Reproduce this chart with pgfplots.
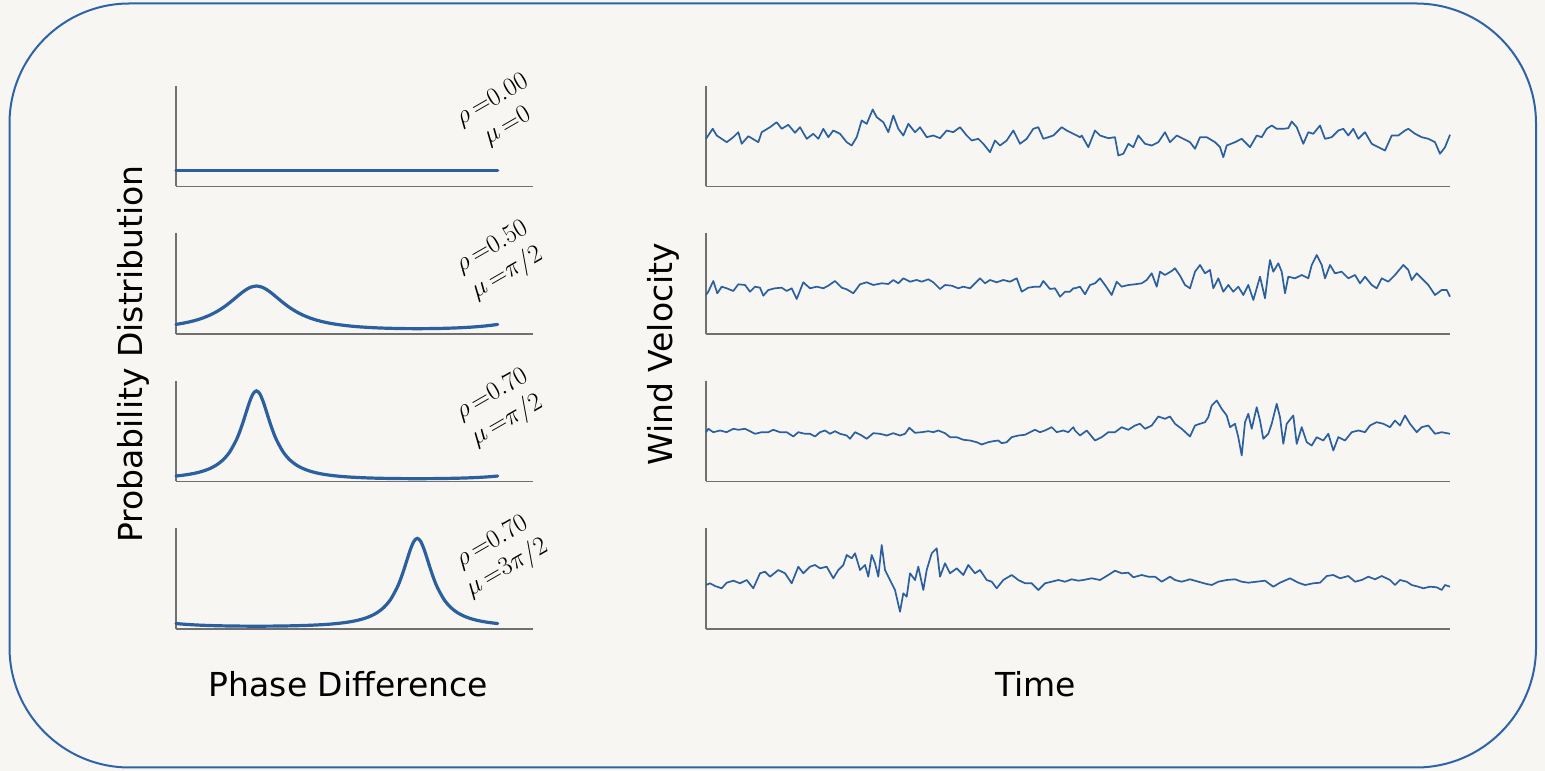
\RequirePackage{fix-cm}
\documentclass[border=0pt]{standalone}
\usepackage[no-math]{fontspec}
\setmainfont{DejaVu Sans}
\usepackage{pgfplots}
\pgfplotsset{compat=1.18}
\definecolor{bg}{HTML}{F7F6F3}
\definecolor{frame}{HTML}{2E63A6}
\definecolor{curve}{HTML}{2B5F9E}
\definecolor{spine}{HTML}{707070}
\newcommand{\eq}{\mkern3mu{=}}
\tikzset{
  dens/.style={curve, line width=3.2pt, smooth, line cap=round},
  wind/.style={curve, line width=1.7pt, line join=round},
  ann/.style={rotate=30, align=center, font=\fontsize{26}{30}\selectfont},
}
\pgfplotsset{
  panel/.style={
    scale only axis, axis x line*=bottom, axis y line*=left,
    axis line style={spine, line width=1.3pt, -},
    xtick=\empty, ytick=\empty, anchor=south west, clip=false,
  },
  lpanel/.style={panel, width=357pt, height=100.5pt, xmin=0, xmax=399.5, ymin=0, ymax=1},
  rpanel/.style={panel, width=744pt, height=100.5pt, xmin=0, xmax=744, ymin=0, ymax=100.5},
}
\begin{document}
\begin{tikzpicture}[x=1pt,y=1pt]
\fill[bg] (0,0) rectangle (1545,771);
\draw[frame, line width=2pt, rounded corners=120pt] (9.5,3.5) rectangle (1536,767.5);

% ---------------- left panels ----------------
\begin{axis}[lpanel, at={(176pt,584.5pt)}]
\addplot[dens] coordinates {(0,0.159155) (360,0.159155)};
\node[ann] at (rel axis cs:0.9076,0.726) {$\rho\eq0.00$\\$\mu\eq0$};
\end{axis}

\begin{axis}[lpanel, at={(176pt,437pt)}]
\addplot[dens] coordinates {
(0,0.09549) (7.5,0.10663) (15,0.12043) (22.5,0.13763) (30,0.15915) (37.5,0.18615)
(45,0.21987) (52.5,0.26140) (60,0.31087) (67.5,0.36602) (75,0.42019) (82.5,0.46166)
(90,0.47746) (97.5,0.46166) (105,0.42019) (112.5,0.36602) (120,0.31087) (127.5,0.26140)
(135,0.21987) (142.5,0.18615) (150,0.15915) (157.5,0.13763) (165,0.12043) (172.5,0.10663)
(180,0.09549) (187.5,0.08646) (195,0.07911) (202.5,0.07311) (210,0.06821) (217.5,0.06422)
(225,0.06099) (232.5,0.05842) (240,0.05641) (247.5,0.05491) (255,0.05387) (262.5,0.05325)
(270,0.05305) (277.5,0.05325) (285,0.05387) (292.5,0.05491) (300,0.05641) (307.5,0.05842)
(315,0.06099) (322.5,0.06422) (330,0.06821) (337.5,0.07311) (345,0.07911) (352.5,0.08646)
(360,0.09549)};
\node[ann] at (rel axis cs:0.9076,0.726) {$\rho\eq0.50$\\$\mu\eq\pi/2$};
\end{axis}

\begin{axis}[lpanel, at={(176pt,289.5pt)}]
\addplot[dens] coordinates {
(0,0.05448) (7.5,0.06209) (15,0.07198) (22.5,0.08506) (30,0.10275) (37.5,0.12728)
(45,0.16232) (52.5,0.21399) (60,0.29244) (67.5,0.41293) (71.25,0.49404) (75,0.58945)
(78.75,0.69434) (82.5,0.79596) (86.25,0.87282) (90,0.90188) (93.75,0.87282) (97.5,0.79596)
(101.25,0.69434) (105,0.58945) (108.75,0.49404) (112.5,0.41293) (120,0.29244) (127.5,0.21399)
(135,0.16232) (142.5,0.12728) (150,0.10275) (157.5,0.08506) (165,0.07198) (172.5,0.06209)
(180,0.05448) (187.5,0.04853) (195,0.04382) (202.5,0.04007) (210,0.03706) (217.5,0.03465)
(225,0.03273) (232.5,0.03121) (240,0.03004) (247.5,0.02916) (255,0.02856) (262.5,0.02820)
(270,0.02809) (277.5,0.02820) (285,0.02856) (292.5,0.02916) (300,0.03004) (307.5,0.03121)
(315,0.03273) (322.5,0.03465) (330,0.03706) (337.5,0.04007) (345,0.04382) (352.5,0.04853)
(360,0.05448)};
\node[ann] at (rel axis cs:0.9076,0.726) {$\rho\eq0.70$\\$\mu\eq\pi/2$};
\end{axis}

\begin{axis}[lpanel, at={(176pt,142pt)}]
\addplot[dens] coordinates {
(0,0.05448) (7.5,0.04853) (15,0.04382) (22.5,0.04007) (30,0.03706) (37.5,0.03465)
(45,0.03273) (52.5,0.03121) (60,0.03004) (67.5,0.02916) (75,0.02856) (82.5,0.02820)
(90,0.02809) (97.5,0.02820) (105,0.02856) (112.5,0.02916) (120,0.03004) (127.5,0.03121)
(135,0.03273) (142.5,0.03465) (150,0.03706) (157.5,0.04007) (165,0.04382) (172.5,0.04853)
(180,0.05448) (187.5,0.06209) (195,0.07198) (202.5,0.08506) (210,0.10275) (217.5,0.12728)
(225,0.16232) (232.5,0.21399) (240,0.29244) (247.5,0.41293) (251.25,0.49404) (255,0.58945)
(258.75,0.69434) (262.5,0.79596) (266.25,0.87282) (270,0.90188) (273.75,0.87282) (277.5,0.79596)
(281.25,0.69434) (285,0.58945) (288.75,0.49404) (292.5,0.41293) (300,0.29244) (307.5,0.21399)
(315,0.16232) (322.5,0.12728) (330,0.10275) (337.5,0.08506) (345,0.07198) (352.5,0.06209)
(360,0.05448)};
\node[ann] at (rel axis cs:0.9076,0.726) {$\rho\eq0.70$\\$\mu\eq3\pi/2$};
\end{axis}

% ---------------- right panels ----------------
\begin{axis}[rpanel, at={(706pt,584.5pt)}]
\addplot[wind] coordinates {
(0,47.7) (6.7,57.7) (10.7,51) (20.7,44.3) (27.3,49.3) (32.3,54.3) (35.7,42.7) (42.3,50.3)
(52.3,44.3) (55.7,54.3) (64,59.3) (70.7,64.3) (75.7,57.7) (82.3,61.7) (89,53.7) (94,59.3)
(100.7,47.7) (107.3,52.7) (112.3,47.7) (117.3,57.7) (122.3,49.3) (127.3,56) (134,52.7)
(140.7,44.3) (145.7,41) (150.7,49.3) (155.7,66) (160.7,62.7) (166.7,77) (170.7,69.3)
(177.3,64.3) (182.3,54.3) (187.3,71) (192.3,57.7) (197.3,51) (202.3,62.7) (209,54.3)
(214,59.3) (220.7,49.3) (227.3,51) (234,48.3) (240.7,56) (247.3,54.3) (254,59.3) (260.7,51)
(265.7,46) (272.3,47.7) (277.3,42.7) (284,34.3) (289,46) (294,41) (300.7,46) (307.3,56)
(314,42.7) (320.7,47.7) (327.3,57.7) (332.3,59.3) (337.3,47.7) (342.3,49.3) (347.3,51)
(355.7,59.3) (360.7,56) (367.3,52.7) (374,49.3)
(375.7,51) (382.3,39.3) (389,56) (394,51) (402.3,48.3) (409,49.3) (412.3,31) (417.3,32.7)
(422.3,42.7) (427.3,39.3) (432.3,51) (439,42.7) (445.7,41) (452.3,44.3) (459,54.3) (464,44.3)
(470.7,51) (477.3,47.7) (484,44.3) (489,37.7) (494,49.3) (500.7,49.3) (509,44.3) (514,39.3)
(517.3,29.3) (520.7,41) (529,44.3) (535.7,47.7) (544,39.3) (550.7,51) (555.7,49.3)
(560.7,57.7) (565.7,61) (570.7,57.7) (577.3,57.7) (582.3,58.3) (585.7,65) (590.7,59.3)
(597.3,42.7) (602.3,54.3) (607.3,52.7) (614,61) (619,47.7) (625.7,49.3) (632.3,56)
(637.3,57.7) (642.3,51) (647.3,57.7) (652.3,47.7) (659,54.3) (665.7,42.7) (672.3,39.3)
(679,36) (685.7,51) (692.3,51) (699,56) (702.3,57.7) (709,52.7) (715.7,49.3) (722.3,47.7)
(729,44.3) (734,32.7) (739,39.3) (744,51.7)};
\end{axis}

\begin{axis}[rpanel, at={(706pt,437pt)}]
\addplot[wind] coordinates {
(0,39) (2.3,42.3) (7.3,53) (11.3,40.7) (15.7,47.3) (20.7,45.7) (27.3,43) (32.3,49.7) (39,49)
(44,42.3) (49,47.3) (54,46.3) (57.3,38.3) (62.3,44) (69,45.7) (75.7,46.3) (80.7,43)
(85.7,45.7) (90.7,35) (97.3,51.7) (104,45.7) (110.7,47.3) (117.3,45.7) (122.3,48.3) (129,53)
(135.7,46.3) (140.7,44.7) (147.3,40.7) (154,49.7) (160.7,51.7) (167.3,49) (175.7,50.7)
(182.3,50) (187.3,54) (192.3,50.7) (197.3,55.7) (204,52.3) (210.7,54) (215.7,52.3)
(222.3,54.7) (227.3,51.7) (234,45) (239,49) (245.7,48.3) (252.3,45.7) (257.3,47.3) (264,45.7)
(269,50.7) (274,55.7) (279,50.7) (284,54) (290.7,51.7) (297.3,54) (304,52.3) (310.7,55.7)
(315.7,42.3) (322.3,46.3) (329,47.3) (334,47.3) (337.3,53) (344,45) (349,45.7) (354,37.3)
(359,42.3) (364,42.3) (367.3,45.7)
(369,45.7) (374,47.3) (379,39.7) (384,49) (389,50.7) (394,55.7) (399,49) (405.7,39)
(410.7,52.3) (415.7,47.3) (422.3,49) (429,49.7) (435.7,50.7) (440.7,54) (445.7,60.7)
(450.7,47.3) (454,62.3) (459,59) (465.7,63) (469,65.7) (474,58.3) (479,49) (484,45.7)
(489,62.3) (494,69) (499,60.7) (504,64) (507.3,45.7) (512.3,55.7) (517.3,42.3) (522.3,49)
(527.3,42.3) (532.3,47.3) (537.3,39) (542.3,49) (547.3,34) (550.7,45.7) (554,57.3) (559,35.7)
(562.3,62.3) (564,74) (567.3,62.3) (572.3,70.7) (575.7,62.3) (579,40.7) (582.3,57.3)
(589,55.7) (595.7,59) (602.3,55.7) (605.7,69) (610.7,79) (615.7,69) (619,55.7) (624,69)
(629,60.7) (635.7,62.3) (642.3,55.7) (649,59) (654,50.7) (659,57.3) (665.7,49) (670.7,45.7)
(675.7,55.7) (682.3,52.3) (689,59) (697.3,69) (702.3,64) (705.7,54) (710.7,60.7) (717.3,54)
(722.3,49) (729,39) (735.7,44) (740.7,44) (744,37.3)};
\end{axis}

\begin{axis}[rpanel, at={(706pt,289.5pt)}]
\addplot[wind] coordinates {
(0,49.3) (2.3,52.7) (7.3,49.3) (14,51) (20.7,49.3) (27.3,52.7) (32.3,51.7) (39,52.7)
(44,50.3) (49,47.7) (55.7,49.3) (62.3,49.3) (67.3,51.7) (74,49.3) (80.7,49.3) (87.3,45)
(92.3,49.3) (99,47.7) (104,47.7) (109,45) (114,49.3) (119,51) (124,47.7) (129,50.3)
(134,47.7) (140.7,46) (144,42.7) (149,49.3) (155.7,46) (160.7,42.7) (167.3,48.3) (174,47.7)
(180.7,46) (187.3,48.3) (194,46) (199,47.7) (203.3,53.7) (209,48.7) (215.7,49.3) (222.3,50.3)
(227.3,49.3) (232.3,51) (239,48.3) (244,44.3) (250.7,44.3) (257.3,41.7) (264,41) (270.7,39.3)
(275.7,37) (282.3,39.3) (287.3,40.3) (292.3,41) (295.7,38.3) (300.7,39.3) (305.7,44.3)
(312.3,46) (319,46.7) (324,49.3) (329,51.7) (334,49.3) (339,51) (345.7,54.3) (350.7,49.3)
(357.3,51) (362.3,49.3) (367.3,54.3)
(369,51) (374,46) (380.7,51) (389,41) (395.7,44.3) (402.3,49.3) (409,49.3) (415.7,54.3)
(422.3,51.7) (429,56) (434,57.7) (439,52.7) (445.7,56) (452.3,65) (459,62.7) (464,65)
(469,57.7) (475.7,52.7) (484,45) (489,56) (494,57.7) (499,59.3) (502.3,64.3) (505.7,76)
(510.7,81) (515.7,72.7) (520.7,66) (524,54.3) (529,57.7) (532.3,44.3) (535.7,26) (539,59.3)
(542.3,67.7) (545.7,52.7) (550.7,74.3) (554,61) (557.3,42.7) (562.3,47.7) (565.7,57.7)
(570.7,77.7) (574,64.3) (577.3,37.7) (580.7,57.7) (587.3,66) (590.7,37.7) (595.7,54.3)
(600.7,39.3) (605.7,36) (610.7,44.3) (617.3,41) (622.3,47.7) (627.3,31) (632.3,44.3) (639,41)
(645.7,49.3) (652.3,51) (659,49.3) (664,56) (670.7,59.3) (677.3,57.7) (684,54.3) (689,61)
(694,56) (699,66) (704,57.7) (710.7,49.3) (715.7,54.3) (722.3,56) (729,47.7) (735.7,49.3)
(744,47.7)};
\end{axis}

\begin{axis}[rpanel, at={(706pt,142pt)}]
\addplot[wind] coordinates {
(0,44) (4,45.7) (9,43) (15.7,40.7) (20.7,46.3) (27.3,48.3) (34,45.7) (40.7,49) (47.3,40.7)
(54,55.7) (59,57.3) (64,52.3) (72.3,59) (79,55.7) (85.7,45.7) (92.3,62.3) (97.3,55.7)
(104,62.3) (109,64) (114,60.7) (120.7,62.3) (127.3,50.7) (132.3,59) (137.3,64) (140.7,74)
(145.7,70.7) (149,75.7) (154,59) (159,64) (162.3,52.3) (165.7,74) (169,65.7) (172.3,52.3)
(175.7,84) (179,59) (184,49) (189,39) (194,17.3) (197.3,35.7) (200.7,32.3) (204,55.7)
(209,49) (212.3,62.3) (217.3,39) (220.7,59) (225.7,75.7) (230.7,80.7) (234,52.3) (239,65.7)
(244,55.7) (250.7,60.7) (257.3,54) (262.3,64) (269,55.7) (274,59) (280.7,49) (285.7,47.3)
(290.7,40.7) (297.3,49) (305.7,54) (312.3,49) (319,45.7) (325.7,45.7) (332.3,39) (339,45.7)
(345.7,47.3) (352.3,49) (359,47.3) (365.7,49.7) (372.3,48.3)
(377.3,49) (385.7,50.7) (394,49) (402.3,54) (409,58.3) (415.7,55.7) (422.3,56.3) (427.3,51.7)
(435.7,54) (442.3,52.3) (449,52.3) (455.7,47.3) (464,52.3) (469,49) (475.7,47.3) (484,49.7)
(492.3,47.3) (500.7,45) (505.7,44) (512.3,47.3) (520.7,49) (529,49.7) (535.7,47.3) (542.3,46.3)
(550.7,47.3) (559,48.3) (567.3,42.3) (574,46.3) (584,50.7) (592.3,46.3) (599,44) (607.3,45.7)
(614,46.3) (620.7,53) (627.3,54) (634,50.7) (642.3,53) (649,47.3) (655.7,49) (662.3,52.3)
(669,49.7) (675.7,53) (684,49) (689,44) (694,49) (700.7,47.3) (705.7,44) (712.3,42.3)
(717.3,40.7) (724,42.3) (730.7,41.7) (735.7,39) (739,44) (744,42.3)};
\end{axis}

% ---------------- labels ----------------
\node[font=\fontsize{33}{40}\selectfont, anchor=base] at (348.5,74) {Phase Difference};
\node[font=\fontsize{33}{40}\selectfont, anchor=base] at (1035.5,74) {Time};
\node[font=\fontsize{33}{40}\selectfont, anchor=base, rotate=90] at (142,417) {Probability Distribution};
\node[font=\fontsize{33}{40}\selectfont, anchor=base, rotate=90] at (672,416.5) {Wind Velocity};
\end{tikzpicture}
\end{document}
